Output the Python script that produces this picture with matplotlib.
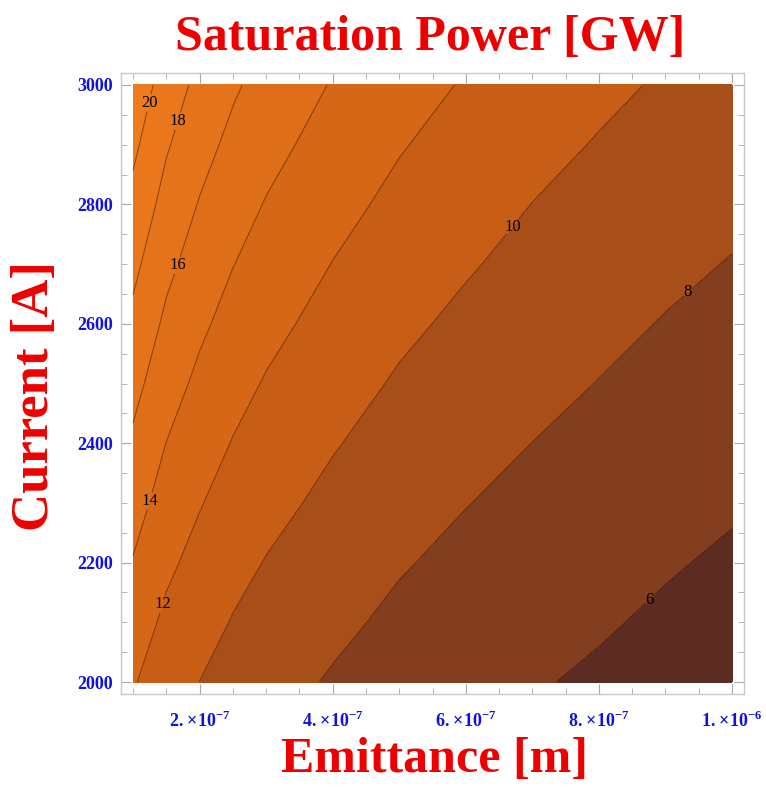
import numpy as np
import matplotlib.pyplot as plt

plt.rcParams['font.family'] = 'Liberation Serif'
plt.rcParams['mathtext.fontset'] = 'custom'
plt.rcParams['mathtext.rm'] = 'Liberation Serif:bold'
plt.rcParams['mathtext.bf'] = 'Liberation Serif:bold'

# grid the values were read on: emittance [m] and current [A]
emittance = np.array([1.0, 1.5, 2.0, 2.5, 3.0, 4.0, 5.0, 6.0, 7.0, 8.0, 9.0, 10.0]) * 1e-7
current = np.array([2000, 2100, 2200, 2300, 2400, 2500, 2600, 2700, 2800, 2900, 3000])

# saturation power [GW], one list per current value
p_2000 = [12.17, 10.84, 9.99, 9.25, 8.68, 7.83, 7.11, 6.57, 6.14, 5.75, 5.33, 4.97]
p_2100 = [13.03, 11.60, 10.69, 9.90, 9.29, 8.39, 7.63, 7.05, 6.59, 6.17, 5.74, 5.36]
p_2200 = [13.90, 12.38, 11.39, 10.56, 9.92, 8.96, 8.15, 7.55, 7.05, 6.60, 6.15, 5.76]
p_2300 = [14.79, 13.17, 12.11, 11.24, 10.56, 9.54, 8.69, 8.05, 7.51, 7.05, 6.58, 6.18]
p_2400 = [15.69, 13.98, 12.85, 11.92, 11.20, 10.13, 9.24, 8.57, 7.99, 7.50, 7.01, 6.60]
p_2500 = [16.61, 14.80, 13.59, 12.62, 11.86, 10.73, 9.80, 9.09, 8.48, 7.96, 7.46, 7.03]
p_2600 = [17.54, 15.63, 14.35, 13.33, 12.53, 11.34, 10.37, 9.62, 8.97, 8.42, 7.91, 7.47]
p_2700 = [18.49, 16.47, 15.12, 14.05, 13.21, 11.96, 10.95, 10.17, 9.47, 8.91, 8.37, 7.92]
p_2800 = [19.45, 17.33, 15.89, 14.78, 13.90, 12.59, 11.54, 10.72, 9.98, 9.39, 8.84, 8.38]
p_2900 = [20.42, 18.20, 16.68, 15.52, 14.60, 13.23, 12.13, 11.28, 10.50, 9.89, 9.32, 8.85]
p_3000 = [21.41, 19.08, 17.48, 16.27, 15.31, 13.88, 12.74, 11.85, 11.03, 10.38, 9.81, 9.33]
power = np.array([p_2000, p_2100, p_2200, p_2300, p_2400, p_2500,
                  p_2600, p_2700, p_2800, p_2900, p_3000])

line_levels = [6, 8, 10, 12, 14, 16, 18, 20]
fill_levels = [0] + line_levels + [40]
band_colors = ['#5c2c22', '#823e1e', '#a84e18', '#c85e16', '#d66716',
               '#df6e18', '#e5731a', '#ea771c', '#ee7b1e']

x_ticks = [2e-7, 4e-7, 6e-7, 8e-7, 1e-6]
x_tick_labels = [r'$2.\!\times\!10^{-7}$', r'$4.\!\times\!10^{-7}$', r'$6.\!\times\!10^{-7}$',
                 r'$8.\!\times\!10^{-7}$', r'$1.\!\times\!10^{-6}$']
y_ticks = [2000, 2200, 2400, 2600, 2800, 3000]

# where the contour labels sit (data coords)
label_pos = [(1.21e-7, 2971), (1.66e-7, 2940), (1.66e-7, 2698), (1.23e-7, 2304),
             (1.45e-7, 2130), (6.73e-7, 2760), (9.35e-7, 2651), (8.80e-7, 2132)]

fig = plt.figure(figsize=(7.66, 7.87), dpi=100)
ax = fig.add_axes([0.158, 0.1182, 0.8133, 0.789])

X, Y = np.meshgrid(emittance, current)
ax.contourf(X, Y, power, levels=fill_levels, colors=band_colors)
cs = ax.contour(X, Y, power, levels=line_levels, colors=[(0.1, 0.03, 0.0, 0.5)],
                linewidths=0.7)
labels = ax.clabel(cs, line_levels, manual=label_pos, inline=True, inline_spacing=1,
                   fontsize=12, colors='k', fmt='%d')
for t in labels:
    t.set_rotation(0)

ax.set_xlim(1e-7 - 0.18e-7, 1e-6 + 0.18e-7)
ax.set_ylim(1980, 3020)

ax.set_xticks(x_ticks)
ax.set_xticklabels(x_tick_labels)
ax.set_xticks(np.arange(1e-7, 1.01e-6, 0.5e-7), minor=True)
ax.set_yticks(y_ticks)
ax.set_yticklabels([str(v) for v in y_ticks], fontweight='bold')
ax.set_yticks(np.arange(2000, 3001, 50), minor=True)

ax.tick_params(which='both', direction='in', top=True, right=True, color='#a8a8a8',
               labelsize=13, labelcolor='#1010e0')
ax.tick_params(which='major', length=7, width=0.8)
ax.tick_params(which='minor', length=4, width=0.6)
ax.tick_params(axis='x', pad=12)
ax.tick_params(axis='y', pad=6)
for s in ax.spines.values():
    s.set_color('#c8c8c8')
    s.set_linewidth(1.0)

fig.text(0.562, 0.952, 'Saturation Power [GW]', color='#ee0000', fontsize=36,
         fontweight='bold', ha='center', va='center')
fig.text(0.567, 0.034, 'Emittance [m]', color='#ee0000', fontsize=36,
         fontweight='bold', ha='center', va='center')
fig.text(0.046, 0.497, 'Current [A]', color='#ee0000', fontsize=38,
         fontweight='bold', ha='center', va='center', rotation=90)

fig.savefig('out.png', dpi=100)
